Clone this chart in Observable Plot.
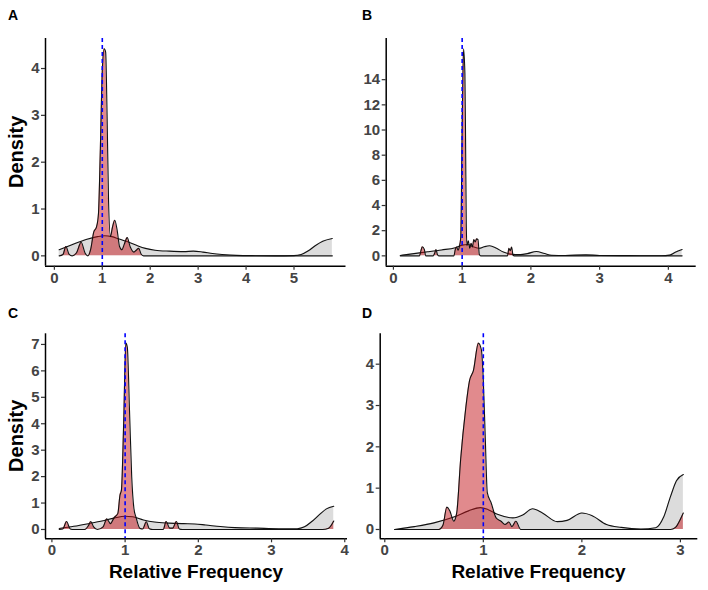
<!DOCTYPE html>
<html>
<head>
<meta charset="utf-8">
<script src="https://cdn.jsdelivr.net/npm/d3@7"></script>
<script src="https://cdn.jsdelivr.net/npm/@observablehq/plot@0.6"></script>
<style>
  html, body { margin: 0; padding: 0; background: #fff; }
  #wrap { position: relative; width: 708px; height: 590px; overflow: hidden; font-family: "Liberation Sans", Arial, sans-serif; }
  #wrap svg.panel { position: absolute; }
  #wrap svg.panel text { font-size: 15px !important; font-weight: bold !important; font-family: "Liberation Sans", Arial, sans-serif !important; }
  #overlay { position: absolute; left: 0; top: 0; pointer-events: none; }
</style>
</head>
<body>
<div id="wrap"></div>
<script>
// ---------- Panel A ----------
const aGrayX = [0.1, 0.3, 0.5, 0.7, 0.9, 1.05, 1.2, 1.35, 1.5, 1.7, 1.9, 2.1, 2.4, 2.7, 2.9, 3.1, 3.3, 3.5, 3.8, 4.2, 4.6, 5.0, 5.15, 5.3, 5.45, 5.6, 5.8];
const aGrayY = [0.13, 0.21, 0.29, 0.36, 0.41, 0.43, 0.41, 0.36, 0.31, 0.23, 0.16, 0.12, 0.1, 0.09, 0.1, 0.08, 0.05, 0.03, 0.01, 0.003, 0.0, 0.005, 0.03, 0.11, 0.22, 0.31, 0.37];
const aRedX = [0.1, 0.18, 0.24, 0.31, 0.37, 0.46, 0.56, 0.64, 0.7, 0.76, 0.82, 0.88, 0.92, 0.96, 1.0, 1.04, 1.07, 1.1, 1.13, 1.17, 1.21, 1.26, 1.31, 1.36, 1.41, 1.46, 1.52, 1.58, 1.66, 1.71, 1.76, 1.81, 1.86, 3.0, 5.8];
const aRedY = [0, 0.03, 0.2, 0.03, 0, 0.06, 0.29, 0.06, 0, 0.15, 0.5, 0.62, 0.9, 2.3, 3.95, 4.42, 4.35, 3.0, 1.2, 0.41, 0.6, 0.76, 0.55, 0.2, 0.13, 0.25, 0.39, 0.2, 0.08, 0.12, 0.16, 0.04, 0, 0, 0];
const aXTicks = [0, 1, 2, 3, 4, 5];
const aYTicks = [0, 1, 2, 3, 4];

// ---------- Panel B ----------
const bGrayX = [0.1, 0.3, 0.5, 0.7, 0.9, 1.0, 1.08, 1.16, 1.25, 1.32, 1.4, 1.5, 1.6, 1.7, 1.85, 1.95, 2.08, 2.2, 2.3, 2.5, 2.8, 3.0, 3.3, 3.6, 3.9, 4.02, 4.1, 4.2];
const bGrayY = [0.03, 0.18, 0.32, 0.47, 0.65, 0.85, 0.9, 0.72, 0.6, 0.72, 0.8, 0.6, 0.3, 0.14, 0.1, 0.18, 0.35, 0.18, 0.05, 0.03, 0.08, 0.03, 0.02, 0.01, 0.01, 0.06, 0.28, 0.5];
const bRedX = [0.1, 0.38, 0.4, 0.42, 0.45, 0.47, 0.58, 0.6, 0.62, 0.64, 0.66, 0.88, 0.9, 0.92, 0.94, 0.96, 0.98, 1.0, 1.02, 1.04, 1.05, 1.06, 1.07, 1.09, 1.11, 1.13, 1.15, 1.17, 1.19, 1.21, 1.23, 1.25, 1.27, 1.66, 1.68, 1.7, 1.72, 1.74, 1.76, 4.2];
const bRedY = [0, 0, 0.4, 0.72, 0.5, 0, 0, 0.2, 0.5, 0.1, 0, 0, 0.5, 0.7, 0.45, 0.75, 1.5, 10, 16.45, 14.5, 9, 2.5, 0.8, 1.2, 0.6, 1.0, 0.7, 1.3, 1.1, 1.35, 1.3, 0.1, 0, 0, 0.6, 0.4, 0.7, 0.05, 0, 0];
const bXTicks = [0, 1, 2, 3, 4];
const bYTicks = [0, 2, 4, 6, 8, 10, 12, 14];

// ---------- Panel C ----------
const cGrayX = [0.1, 0.3, 0.5, 0.7, 0.85, 1.0, 1.1, 1.25, 1.4, 1.6, 1.8, 1.95, 2.1, 2.3, 2.5, 2.8, 3.1, 3.35, 3.45, 3.55, 3.65, 3.75, 3.85];
const cGrayY = [0.04, 0.12, 0.22, 0.33, 0.43, 0.5, 0.48, 0.36, 0.28, 0.24, 0.22, 0.21, 0.17, 0.11, 0.07, 0.05, 0.03, 0.03, 0.1, 0.3, 0.55, 0.78, 0.88];
const cRedX = [0.1, 0.15, 0.2, 0.25, 0.3, 0.45, 0.5, 0.53, 0.57, 0.62, 0.7, 0.75, 0.8, 0.85, 0.9, 0.93, 0.95, 0.98, 1.01, 1.03, 1.06, 1.09, 1.12, 1.15, 1.2, 1.24, 1.29, 1.33, 1.38, 1.52, 1.56, 1.61, 1.65, 1.7, 1.74, 1.78, 3.7, 3.78, 3.85];
const cRedY = [0, 0.02, 0.3, 0.02, 0, 0, 0.15, 0.3, 0.1, 0, 0.1, 0.4, 0.22, 0.45, 0.6, 1.3, 1.5, 4, 7.05, 6.9, 4.5, 2, 0.8, 0.45, 0.05, 0.02, 0.29, 0.03, 0, 0, 0.3, 0.05, 0.05, 0.3, 0.02, 0, 0, 0.05, 0.32];
const cXTicks = [0, 1, 2, 3, 4];
const cYTicks = [0, 1, 2, 3, 4, 5, 6, 7];

// ---------- Panel D ----------
const dGrayX = [0.1, 0.3, 0.5, 0.7, 0.85, 0.97, 1.05, 1.15, 1.3, 1.4, 1.5, 1.6, 1.75, 1.85, 2.0, 2.1, 2.25, 2.4, 2.6, 2.75, 2.83, 2.9, 2.96, 3.03];
const dGrayY = [0, 0.07, 0.16, 0.3, 0.45, 0.53, 0.48, 0.36, 0.28, 0.35, 0.5, 0.4, 0.19, 0.22, 0.4, 0.34, 0.12, 0.05, 0.01, 0.04, 0.3, 0.8, 1.18, 1.33];
const dRedX = [0.1, 0.55, 0.59, 0.63, 0.66, 0.7, 0.73, 0.77, 0.82, 0.86, 0.9, 0.95, 0.98, 1.0, 1.02, 1.04, 1.08, 1.13, 1.18, 1.22, 1.26, 1.29, 1.33, 1.38, 2.9, 2.95, 3.0, 3.03];
const dRedY = [0, 0, 0.1, 0.54, 0.45, 0.2, 0.4, 1.7, 2.9, 3.6, 3.85, 4.51, 4.35, 3.6, 2.2, 0.9, 0.64, 0.28, 0.2, 0.12, 0.18, 0.07, 0.2, 0, 0, 0.05, 0.25, 0.4];
const dXTicks = [0, 1, 2, 3];
const dYTicks = [0, 1, 2, 3, 4];

const refLine = [1];
const panelLetters = ["A", "B", "C", "D"];
const yTitle = "Density";
const xTitle = "Relative Frequency";

const panels = [
  {gx: aGrayX, gy: aGrayY, rx: aRedX, ry: aRedY, xt: aXTicks, yt: aYTicks, left: 0, top: 0, m: [38, 8.5, 29.3, 45]},
  {gx: bGrayX, gy: bGrayY, rx: bRedX, ry: bRedY, xt: bXTicks, yt: bYTicks, left: 354, top: 0, m: [38, 12.3, 29.3, 31.7]},
  {gx: cGrayX, gy: cGrayY, rx: cRedX, ry: cRedY, xt: cXTicks, yt: cYTicks, left: 0, top: 295, m: [38.3, 7, 51.7, 45]},
  {gx: dGrayX, gy: dGrayY, rx: dRedX, ry: dRedY, xt: dXTicks, yt: dYTicks, left: 354, top: 295, m: [38.3, 10.7, 51.7, 25.7]}
];

const wrap = document.getElementById("wrap");
const frames = [];

panels.forEach((p) => {
  const gray = p.gx.map((x, i) => ({x, y: p.gy[i]}));
  const red = p.rx.map((x, i) => ({x, y: p.ry[i]}));
  const [x0, x1] = d3.extent([...p.gx, ...p.rx]);
  const ymax = d3.max([...p.gy, ...p.ry]);
  const xd = [x0 - 0.05 * (x1 - x0), x1 + 0.05 * (x1 - x0)];
  const yd = [-0.05 * ymax, ymax * 1.05];
  const [mt, mr, mb, ml] = p.m;
  const W = 354, H = 295;
  frames.push({l: p.left + ml, r: p.left + W - mr, t: p.top + mt, b: p.top + H - mb});
  const curve = "monotone-x";
  const svg = Plot.plot({
    width: W, height: H,
    marginTop: mt, marginRight: mr, marginBottom: mb, marginLeft: ml,
    style: {fontFamily: "'Liberation Sans', Arial, sans-serif", fontSize: "15px", fontWeight: "bold", background: "transparent", overflow: "visible"},
    x: {domain: xd},
    y: {domain: yd},
    marks: [
      Plot.areaY(gray, {x: "x", y: "y", fill: "#dcdcdc", curve}),
      Plot.lineY(gray, {x: "x", y: "y", stroke: "#111", strokeWidth: 1.1, curve}),
      Plot.areaY(red, {x: "x", y: "y", fill: "#c4161c", fillOpacity: 0.5, curve}),
      Plot.lineY(red, {x: "x", y: "y", stroke: "#111", strokeWidth: 1.1, curve}),
      Plot.ruleX(refLine, {stroke: "#0000ff", strokeWidth: 1.6, strokeDasharray: "4,3"}),
      Plot.ruleX([xd[0]], {stroke: "#000", strokeWidth: 1.5}),
      Plot.ruleY([yd[0]], {stroke: "#000", strokeWidth: 1.5}),
      Plot.axisX(p.xt, {tickSize: 4, tickPadding: 2, stroke: "#333", strokeWidth: 1.2, fill: "#444", fontWeight: "bold", fontSize: 15, label: null}),
      Plot.axisY(p.yt, {tickSize: 4, tickPadding: 2, stroke: "#333", strokeWidth: 1.2, fill: "#444", fontWeight: "bold", fontSize: 15, label: null})
    ]
  });
  svg.classList.add("panel");
  svg.style.left = p.left + "px";
  svg.style.top = p.top + "px";
  wrap.appendChild(svg);
});

// Titles and panel letters
const ov = d3.select(wrap).append("svg").attr("id", "overlay").attr("width", 708).attr("height", 590)
  .style("font-family", "'Liberation Sans', Arial, sans-serif").style("font-weight", "bold");
const letterPos = [[8, 20], [362, 20], [8, 318], [362, 318]];
panelLetters.forEach((t, i) => {
  ov.append("text").attr("x", letterPos[i][0]).attr("y", letterPos[i][1]).attr("font-size", 14).attr("fill", "#000").text(t);
});
[0, 2].forEach((i) => {
  const f = frames[i];
  const cy = (f.t + f.b) / 2;
  ov.append("text").attr("transform", `translate(23,${cy}) rotate(-90)`).attr("text-anchor", "middle")
    .attr("font-size", 20).attr("fill", "#000").text(yTitle);
});
[2, 3].forEach((i) => {
  const f = frames[i];
  const cx = (f.l + f.r) / 2;
  ov.append("text").attr("x", cx).attr("y", 578).attr("text-anchor", "middle")
    .attr("font-size", 19).attr("fill", "#000").text(xTitle);
});
</script>
</body>
</html>
